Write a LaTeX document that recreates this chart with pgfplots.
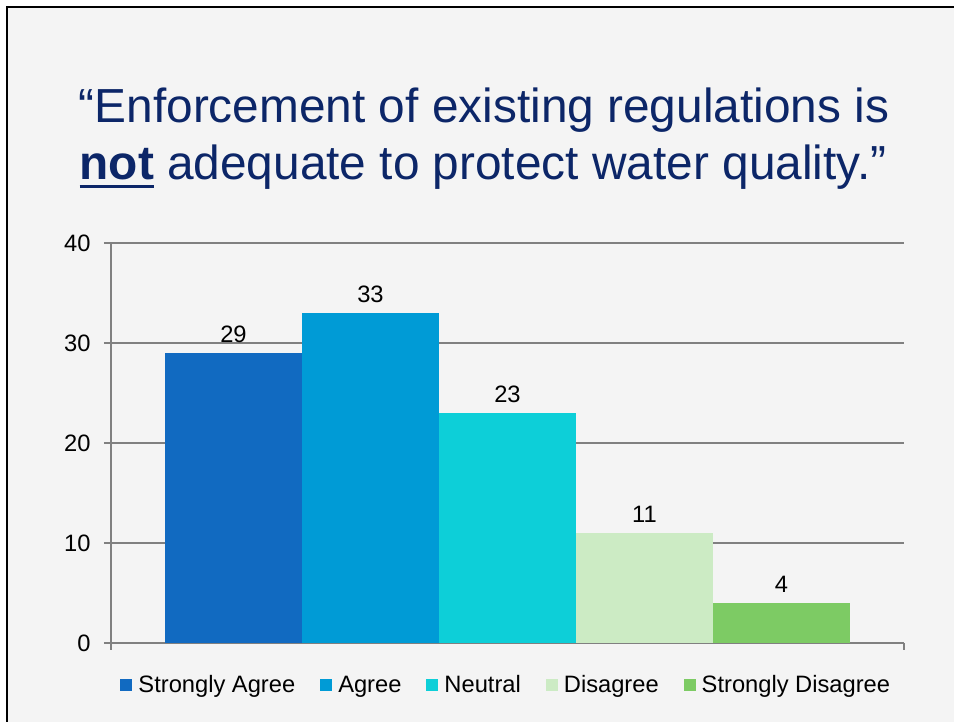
\documentclass[border=0pt]{standalone}
\usepackage{fontspec}
\setmainfont{Liberation Sans}
\usepackage{pgfplots}
\pgfplotsset{compat=1.18}

\definecolor{slidebg}{RGB}{244,244,244}
\definecolor{titlecol}{RGB}{12,38,104}
\definecolor{axiscol}{RGB}{128,128,128}
\definecolor{cSA}{RGB}{17,106,193}
\definecolor{cA}{RGB}{0,155,214}
\definecolor{cN}{RGB}{13,207,216}
\definecolor{cD}{RGB}{204,235,196}
\definecolor{cSD}{RGB}{125,203,100}

% bold word with a heavy underline
\newcommand{\heavyul}[1]{\leavevmode\sbox0{#1}\rlap{\rule[-8.5pt]{\wd0}{3pt}}\usebox0}
\newcommand{\labelfont}{\fontsize{23.7}{28}\selectfont}

\begin{document}
\begin{tikzpicture}[x=1pt,y=1pt]
  \useasboundingbox (0,0) rectangle (954,722);
  \fill[white] (0,0) rectangle (954,722);
  \fill[slidebg] (7,0) rectangle (954,715);
  \draw[black, line width=2.5pt] (7,0) -- (7,715) -- (954,715);

  % title
  \node[anchor=base, text=titlecol, font=\fontsize{47.8}{57}\selectfont, inner sep=0pt]
    at (484,599) {“Enforcement of existing regulations is};
  \node[anchor=base, text=titlecol, font=\fontsize{47.8}{57}\selectfont, inner sep=0pt]
    at (483,542) {\heavyul{\textbf{not}} adequate to protect water quality.”};

  \begin{axis}[
    at={(111pt,79pt)}, anchor=south west,
    scale only axis, width=793pt, height=400pt,
    ybar=0pt, bar width=137pt,
    xmin=-1, xmax=1, ymin=0, ymax=40,
    xtick={-1,1}, xticklabels={},
    ytick={0,10,20,30,40},
    axis x line*=bottom, axis y line*=left,
    axis line style={draw=axiscol, line width=1.2pt},
    tick align=outside, major tick length=7pt,
    tick style={draw=axiscol, line width=1.2pt},
    ymajorgrids, grid style={draw=axiscol, line width=1.2pt},
    /pgf/number format/assume math mode=true,
    tick label style={font=\labelfont, text=black},
    yticklabel style={xshift=-10pt},
    nodes near coords,
    nodes near coords style={anchor=base, yshift=10pt, font=\labelfont, text=black},
    every axis plot post/.append style={draw=none,
      legend image code/.code={\fill[##1] (0pt,-6pt) rectangle (12pt,6pt);}},
    legend style={at={(0.501,-0.105)}, anchor=center, draw=none, fill=none,
      font=\labelfont, legend columns=-1,
      nodes={inner xsep=6pt, inner ysep=0pt},
      /tikz/every even column/.append style={column sep=19pt}},
    legend cell align=left,
  ]
    \addplot[fill=cSA] coordinates {(0,29)};
    \addplot[fill=cA] coordinates {(0,33)};
    \addplot[fill=cN] coordinates {(0,23)};
    \addplot[fill=cD] coordinates {(0,11)};
    \addplot[fill=cSD] coordinates {(0,4)};
    \legend{Strongly Agree, Agree, Neutral, Disagree, Strongly Disagree}
  \end{axis}
\end{tikzpicture}
\end{document}
